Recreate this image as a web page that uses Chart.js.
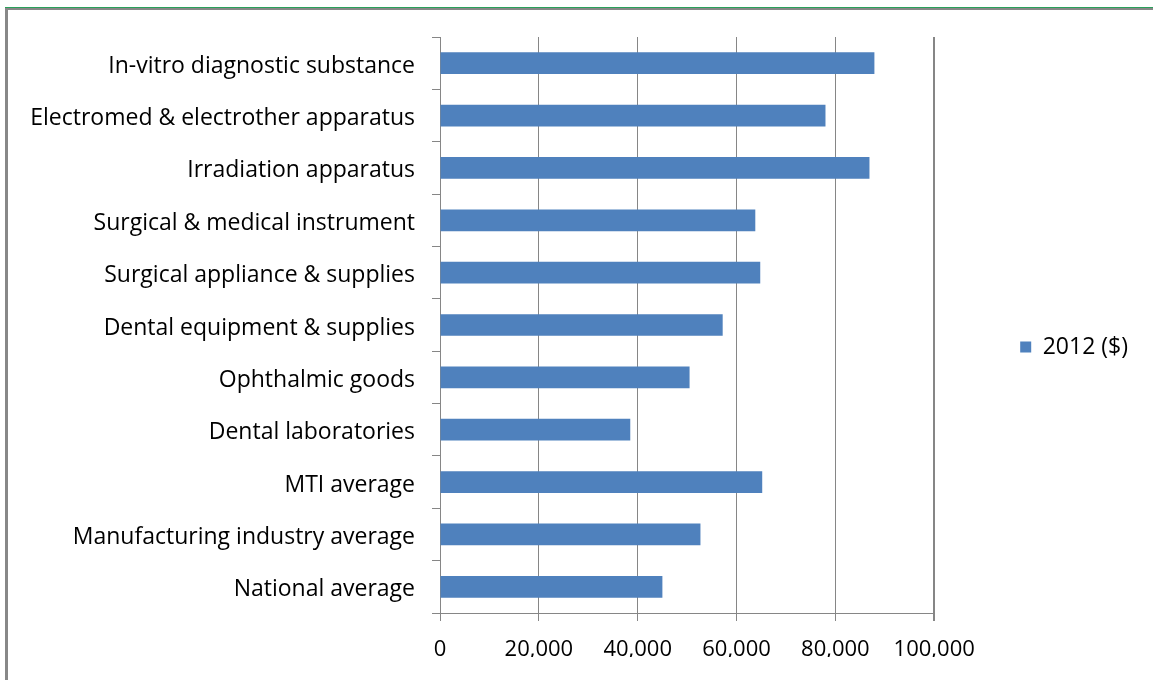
<!DOCTYPE html>
<html>
<head>
<meta charset="utf-8">
<script src="https://cdn.jsdelivr.net/npm/chart.js@4"></script>
<style>
  body { margin: 0; background: #fff; }
  #wrap { position: relative; width: 1153px; height: 680px; overflow: hidden; }
  #frame { position: absolute; left: 5px; top: 7px; right: -10px; bottom: -10px; border-top: 1px solid #2aa05a; }
  #frame div { position: absolute; left: 0; top: 0; right: 0; bottom: 0; border-top: 2px solid #888; border-left: 3px solid #888; }
  canvas { position: absolute; left: 0; top: 0; }
</style>
</head>
<body>
<div id="wrap">
  <div id="frame"><div></div></div>
  <canvas id="myChart" width="1153" height="680"></canvas>
</div>
<script>
// categories, top to bottom
const categories = [
  'In-vitro diagnostic substance',
  'Electromed & electrother apparatus',
  'Irradiation apparatus',
  'Surgical & medical instrument',
  'Surgical appliance & supplies',
  'Dental equipment & supplies',
  'Ophthalmic goods',
  'Dental laboratories',
  'MTI average',
  'Manufacturing industry average',
  'National average'
];
const values2012 = [87900, 78000, 86900, 63800, 64800, 57200, 50500, 38500, 65200, 52700, 45000];
const seriesName = '2012 ($)';
const xTicks = [0, 20000, 40000, 60000, 80000, 100000];

const gridColor = '#868686';
const font = { family: 'Open Sans', size: 23 };
const tickFont = { family: 'Open Sans', size: 22 };

const ctx = document.getElementById('myChart');

new Chart(ctx, {
  type: 'bar',
  data: {
    labels: categories,
    datasets: [{
      label: seriesName,
      data: values2012,
      backgroundColor: '#4f81bd',
      barPercentage: 0.83,
      categoryPercentage: 0.5
    }]
  },
  options: {
    indexAxis: 'y',
    responsive: false,
    animation: false,
    layout: { padding: { top: 37, left: 0, bottom: 23, right: 15 } },
    plugins: {
      tooltip: { enabled: false },
      legend: {
        position: 'right',
        labels: {
          color: '#000',
          font: font,
          boxWidth: 11,
          boxHeight: 11,
          padding: 86
        }
      }
    },
    scales: {
      x: {
        min: 0,
        max: 100000,
        afterFit: function(scale) { scale.height = 44; },
        afterBuildTicks: function(scale) {
          scale.ticks = xTicks.map(v => ({ value: v }));
        },
        border: { color: gridColor },
        grid: {
          color: gridColor,
          tickLength: 8,
          lineWidth: c => (c.index === xTicks.length - 1 ? 2 : 1)
        },
        ticks: {
          color: '#000',
          font: tickFont,
          padding: 16,
          maxRotation: 0,
          // thousands separator
          callback: function(value) {
            return String(value).replace(/\B(?=(\d{3})+(?!\d))/g, ',');
          }
        }
      },
      y: {
        afterFit: function(scale) { scale.width = 440; },
        border: { color: gridColor },
        grid: {
          color: gridColor,
          drawOnChartArea: false,
          tickLength: 8,
          offset: true
        },
        ticks: {
          color: '#000',
          font: font,
          padding: 17,
          labelOffset: 3
        }
      }
    }
  }
});
</script>
</body>
</html>
